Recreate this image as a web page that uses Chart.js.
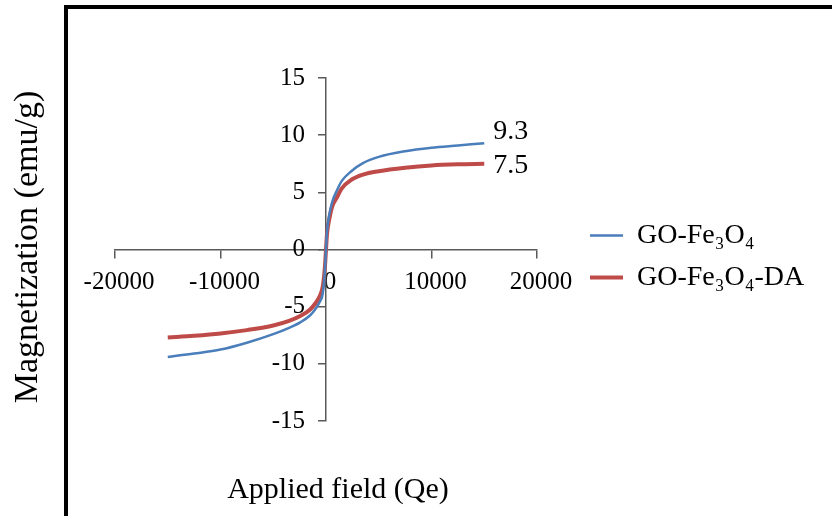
<!DOCTYPE html>
<html>
<head>
<meta charset="utf-8">
<script src="https://cdn.jsdelivr.net/npm/chart.js@4"></script>
<style>
  html, body { margin: 0; padding: 0; width: 832px; height: 516px; overflow: hidden; background: #fff; }
  #frame { position: absolute; left: 64px; top: 5px; width: 1000px; height: 1000px; border: 4px solid #000; }
  #chart { position: absolute; left: 0; top: 0; }
  .title { position: absolute; font-family: "Liberation Serif", "Times New Roman", serif; color: #000; white-space: nowrap; }
  #xTitle { left: 188px; top: 473px; width: 300px; text-align: center; font-size: 30px; line-height: 30px; }
  #yTitle { left: -174px; top: 230px; width: 400px; text-align: center; font-size: 34px; line-height: 34px; transform: rotate(-90deg); }
</style>
</head>
<body>
<div id="frame"></div>
<canvas id="chart" width="832" height="516"></canvas>
<div class="title" id="xTitle">Applied field (Qe)</div>
<div class="title" id="yTitle">Magnetization (emu/g)</div>
<script>
const seriesNames = ['GO-Fe₃O₄', 'GO-Fe₃O₄-DA'];
const field = [-15000, -12500, -10000, -7500, -5000, -3500, -2400, -1500, -1000, -600, -300, -100, 0,
               100, 300, 600, 1000, 1500, 2400, 3500, 5000, 7500, 10000, 12500, 15000];
const magFe3O4 = [-9.4, -9.1, -8.75, -8.15, -7.4, -6.85, -6.35, -5.75, -5.2, -4.6, -3.8, -1.8, 0,
                  1.6, 3.0, 4.2, 5.1, 6.0, 6.85, 7.55, 8.1, 8.6, 8.9, 9.1, 9.3];
const magFe3O4DA = [-7.7, -7.55, -7.35, -7.05, -6.65, -6.25, -5.8, -5.25, -4.7, -4.1, -3.2, -1.5, 0,
                    1.4, 2.6, 3.8, 4.5, 5.35, 6.1, 6.55, 6.85, 7.15, 7.35, 7.45, 7.5];
const xTicks = [-20000, -10000, 0, 10000, 20000];
const yTicks = [-15, -10, -5, 0, 5, 10, 15];

const serif = '"Liberation Serif", "DejaVu Serif", serif';
const axisColor = '#595959';
const colors = ['#4a7ebb', '#be4b48'];

// legend sits right of a spacer axis, work out the right padding from the label width
const mctx = document.createElement('canvas').getContext('2d');
mctx.font = '28px ' + serif;
const textW = Math.max(...seriesNames.map(s => mctx.measureText(s).width));
const legendW = 14 + 33 + 14 + textW + 10;
const padRight = 832 - 576 - legendW;

function toPoints(ys) {
    return field.map((x, i) => ({ x: x, y: ys[i] }));
}

const endLabels = {
    id: 'endLabels',
    afterDatasetsDraw(chart) {
        const ctx = chart.ctx;
        const offsets = [-11.5, 2];
        ctx.save();
        ctx.font = '28px ' + serif;
        ctx.fillStyle = '#000';
        ctx.textAlign = 'left';
        ctx.textBaseline = 'middle';
        chart.data.datasets.forEach((ds, i) => {
            const meta = chart.getDatasetMeta(i);
            const last = meta.data[meta.data.length - 1];
            const val = ds.data[ds.data.length - 1].y;
            ctx.fillText(val.toFixed(1), last.x + 9, last.y + offsets[i]);
        });
        ctx.restore();
    }
};

const ctx = document.getElementById('chart').getContext('2d');
const chart = new Chart(ctx, {
    type: 'scatter',
    data: {
        datasets: [
            {
                label: seriesNames[0],
                data: toPoints(magFe3O4),
                borderColor: colors[0],
                backgroundColor: colors[0],
                borderWidth: 2.5,
                showLine: true,
                pointRadius: 0,
                cubicInterpolationMode: 'monotone'
            },
            {
                label: seriesNames[1],
                data: toPoints(magFe3O4DA),
                borderColor: colors[1],
                backgroundColor: colors[1],
                borderWidth: 4,
                showLine: true,
                pointRadius: 0,
                cubicInterpolationMode: 'monotone'
            }
        ]
    },
    options: {
        responsive: false,
        animation: false,
        devicePixelRatio: 1,
        layout: {
            padding: { left: 115, top: 78, bottom: 95, right: padRight }
        },
        scales: {
            x: {
                type: 'linear',
                position: { y: 0 },
                min: -20000,
                max: 20000,
                afterBuildTicks: s => { s.ticks = xTicks.map(v => ({ value: v })); },
                afterFit: s => { s.height = 0; },
                ticks: {
                    callback: v => String(v),
                    font: { family: serif, size: 25 },
                    color: '#000',
                    padding: 10,
                    labelOffset: 4,
                    maxRotation: 0,
                    autoSkip: false
                },
                grid: { drawOnChartArea: false, drawTicks: true, tickLength: 8, color: axisColor, lineWidth: 1.5 },
                border: { color: axisColor, width: 1.5 }
            },
            y: {
                type: 'linear',
                position: 'center',   // x range is symmetric, so centre = x 0
                min: -15,
                max: 15,
                afterBuildTicks: s => { s.ticks = yTicks.map(v => ({ value: v })); },
                afterFit: s => { s.width = 0; },
                ticks: {
                    callback: v => String(v),
                    font: { family: serif, size: 25 },
                    color: '#000',
                    padding: 14,
                    autoSkip: false
                },
                grid: { drawOnChartArea: false, drawTicks: true, tickLength: 7, color: axisColor, lineWidth: 1.5 },
                border: { color: axisColor, width: 1.5 }
            },
            spacer: {
                type: 'linear',
                axis: 'y',
                position: 'right',
                display: true,
                ticks: { display: false },
                grid: { display: false },
                border: { display: false },
                afterFit: s => { s.width = 39; }
            }
        },
        plugins: {
            legend: {
                position: 'right',
                maxWidth: 400,
                title: { display: true, text: '', padding: 1, font: { size: 10 } },
                labels: {
                    boxWidth: 33,
                    boxHeight: 0,
                    padding: 14,
                    color: '#000',
                    font: { family: serif, size: 28 }
                }
            },
            tooltip: { enabled: false }
        }
    },
    plugins: [endLabels]
});
</script>
</body>
</html>
